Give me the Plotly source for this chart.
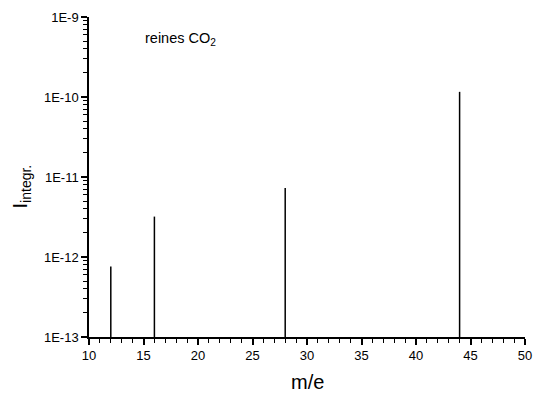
import plotly.graph_objects as go
import numpy as np

# peak positions (m/e) and integrated intensities
mass = [12, 16, 28, 44]
intensity = [7.6e-13, 3.2e-12, 7.3e-12, 1.16e-10]

Y_MIN = 1e-13
Y_MAX = 1e-9
y_tickvals = [1e-13, 1e-12, 1e-11, 1e-10, 1e-9]
y_ticktext = ["1E-13", "1E-12", "1E-11", "1E-10", "1E-9"]
x_tickvals = [10, 15, 20, 25, 30, 35, 40, 45, 50]

# minor ticks: every unit on x, 2..9 within each decade on y
x_minor = [v for v in range(10, 51) if v % 5 != 0]
y_minor = [d * k for d in y_tickvals[:-1] for k in range(2, 10)]

FONT = "Liberation Sans, Arial, sans-serif"
Y_RANGE = [np.log10(Y_MIN), np.log10(Y_MAX)]

# vertical sticks from the bottom of the axis up to each intensity
stick_x = []
stick_y = []
for m, val in zip(mass, intensity):
    stick_x += [m, m, None]
    stick_y += [Y_MIN, val, None]

fig = go.Figure()
fig.add_trace(
    go.Scatter(
        x=stick_x,
        y=stick_y,
        mode="lines",
        line=dict(color="black", width=1.5),
        hoverinfo="skip",
    )
)

axis_common = dict(
    showline=True,
    linecolor="black",
    linewidth=1.5,
    showgrid=False,
    zeroline=False,
    ticks="outside",
    tickcolor="black",
)

fig.update_layout(
    xaxis=dict(
        range=[10, 50],
        tickvals=x_tickvals,
        ticklen=6,
        tickwidth=1.5,
        tickfont=dict(family=FONT, size=13, color="black"),
        minor=dict(tickvals=x_minor, ticks="outside", ticklen=4,
                   tickwidth=1.3, tickcolor="black"),
        **axis_common,
    ),
    yaxis=dict(
        type="log",
        range=Y_RANGE,
        tickvals=y_tickvals,
        ticktext=y_ticktext,
        ticklen=6,
        tickwidth=1.5,
        tickfont=dict(family=FONT, size=13, color="black"),
        minor=dict(tickvals=y_minor, ticks="outside", ticklen=4,
                   tickwidth=1.3, tickcolor="black"),
        **axis_common,
    ),
)

# sample label
fig.add_annotation(
    x=0.124, y=0.93, xref="paper", yref="paper",
    text="reines CO<sub>2</sub>",
    showarrow=False, xanchor="left", yanchor="middle",
    font=dict(family=FONT, size=14.5, color="black"),
)

# axis titles
fig.add_annotation(
    x=0.5, y=-0.10, xref="paper", yref="paper",
    text="m/e",
    showarrow=False, xanchor="center", yanchor="top",
    font=dict(family=FONT, size=20, color="black"),
)
fig.add_annotation(
    x=-0.154, y=0.47, xref="paper", yref="paper",
    text="I<sub>integr.</sub>",
    textangle=-90,
    showarrow=False, xanchor="center", yanchor="middle",
    font=dict(family=FONT, size=20, color="black"),
)

# page body adds an 8px margin, so the figure is sized to fit inside it
fig.update_layout(
    template="none",
    width=533,
    height=386,
    showlegend=False,
    margin=dict(l=81, r=16, t=9, b=57),
    paper_bgcolor="white",
    plot_bgcolor="white",
)

fig.write_html("out.html")
